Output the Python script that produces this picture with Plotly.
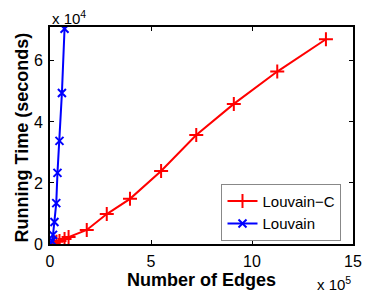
import plotly.graph_objects as go

# Louvain-C (edges, seconds)
lc_edges = [17000, 32000, 47000, 72000, 92000, 182000, 281000, 396000, 550000, 724000, 910000, 1125000, 1366000]
lc_time = [300, 700, 1000, 1600, 2300, 4600, 9800, 14800, 23900, 35700, 45900, 56500, 67100]
# Louvain
lv_edges = [3000, 9000, 15000, 22000, 31000, 37000, 47000, 59000, 72000]
lv_time = [200, 1000, 3000, 7200, 13400, 23300, 33800, 49500, 70500]

FONT = "Liberation Sans, Arial, Helvetica, sans-serif"

fig = go.Figure()
fig.add_trace(go.Scatter(x=lc_edges, y=lc_time, mode="lines+markers", name="Louvain\u2212C",
                         line=dict(color="#ff0000", width=2),
                         marker=dict(symbol="cross-thin", size=10, line=dict(color="#ff0000", width=2))))
fig.add_trace(go.Scatter(x=lv_edges, y=lv_time, mode="lines+markers", name="Louvain",
                         line=dict(color="#0000ff", width=2),
                         marker=dict(symbol="x-thin", size=8, line=dict(color="#0000ff", width=2))))

# page body has an 8px default margin, so the figure is sized/offset to compensate
fig.update_layout(
    width=382, height=285,
    margin=dict(l=42, r=37, t=19, b=49, autoexpand=False),
    paper_bgcolor="white", plot_bgcolor="white",
    font=dict(family=FONT, size=15, color="black"),
    showlegend=True,
    legend=dict(x=0.566, y=0.015, xanchor="left", yanchor="bottom",
                bgcolor="white", bordercolor="#888888", borderwidth=1,
                font=dict(size=15), itemwidth=30, tracegroupgap=0),
    xaxis=dict(range=[0, 1500000], tickvals=[0, 500000, 1000000, 1500000],
               ticktext=["0", "5", "10", "15"], ticks="inside", ticklen=4,
               tickcolor="black", showline=True, linecolor="black", linewidth=2,
               mirror="ticks", showgrid=False, zeroline=False, ticklabelstandoff=2,
               tickfont=dict(size=16)),
    yaxis=dict(range=[0, 71100], tickvals=[0, 20000, 40000, 60000],
               ticktext=["0", "2", "4", "6"], ticks="inside", ticklen=4,
               tickcolor="black", showline=True, linecolor="black", linewidth=2,
               mirror="ticks", showgrid=False, zeroline=False, ticklabelstandoff=2,
               tickfont=dict(size=16)),
    annotations=[
        dict(text="<b>Number of Edges</b>", xref="paper", yref="paper", x=0.5, y=-0.168,
             xanchor="center", yanchor="middle", showarrow=False, font=dict(size=18)),
        dict(text="<b>Running Time (seconds)</b>", xref="paper", yref="paper", x=-0.093, y=0.49,
             xanchor="center", yanchor="middle", showarrow=False, textangle=-90,
             font=dict(size=18)),
        dict(text="x 10<sup>4</sup>", xref="paper", yref="paper", x=0.0, y=1.046,
             xanchor="left", yanchor="middle", showarrow=False, font=dict(size=15)),
        dict(text="x 10<sup>5</sup>", xref="paper", yref="paper", x=1.0, y=-0.18,
             xanchor="right", yanchor="middle", showarrow=False, font=dict(size=15)),
    ],
)

fig.write_html("out.html")
